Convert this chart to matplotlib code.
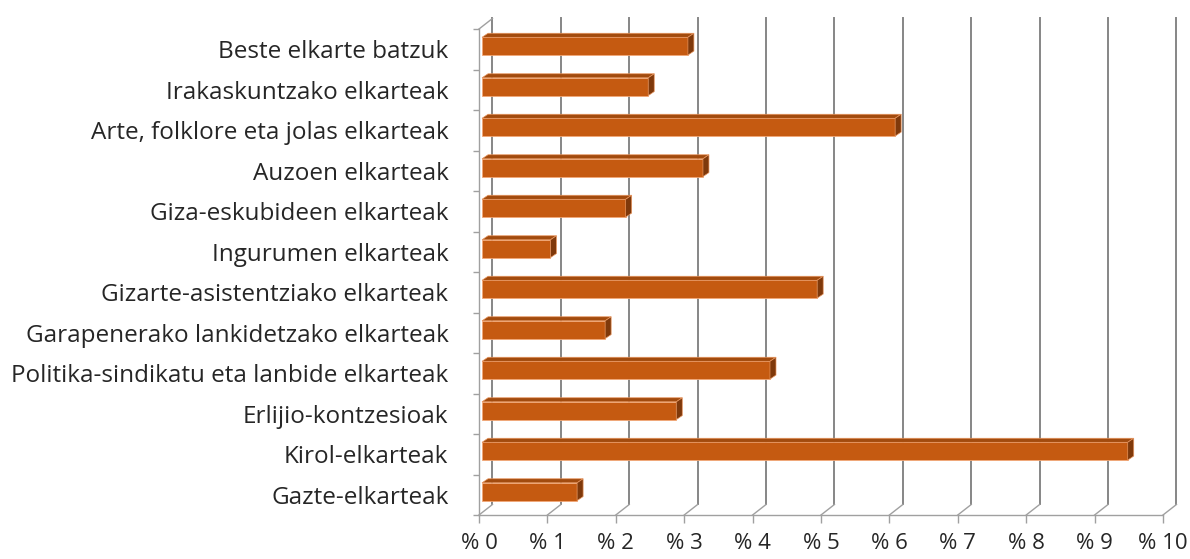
import matplotlib.pyplot as plt
from matplotlib.patches import Polygon

# Datuak (goitik behera irudian)
kategoriak = ["Beste elkarte batzuk", "Irakaskuntzako elkarteak",
              "Arte, folklore eta jolas elkarteak", "Auzoen elkarteak",
              "Giza-eskubideen elkarteak", "Ingurumen elkarteak",
              "Gizarte-asistentziako elkarteak", "Garapenerako lankidetzako elkarteak",
              "Politika-sindikatu eta lanbide elkarteak", "Erlijio-kontzesioak",
              "Kirol-elkarteak", "Gazte-elkarteak"]
balioak = [3.01, 2.43, 6.04, 3.23, 2.1, 1.0, 4.9, 1.8, 4.21, 2.84, 9.44, 1.39]
x_ticks = list(range(0, 11))
x_etiketak = ["% " + str(t) for t in x_ticks]

# behetik gora marraztu
kategoriak = kategoriak[::-1]
balioak = balioak[::-1]
n = len(kategoriak)

plt.rcParams['font.family'] = ['Open Sans', 'DejaVu Sans']

fig = plt.figure(figsize=(11.9, 5.59), dpi=100)
W, H = 1190, 559
ax = fig.add_axes([479 / W, (H - 515) / H, (1163 - 479) / W, (515 - 29) / H])
ax.set_xlim(0, 10)
ax.set_ylim(0, n)

# 3D sakonera (datu unitateetan)
DX, DY = 0.197, 0.26
grid_kol = "#868686"
ax_kol = "#a0a0a0"

# atzeko horma
for t in x_ticks:
    ax.plot([t + DX, t + DX], [DY, n + DY], color=grid_kol, lw=1.4, clip_on=False, zorder=1)
    ax.plot([t, t + DX], [0, DY], color=ax_kol, lw=1.0, clip_on=False, zorder=1)
# ezkerreko horma goiko ertza
ax.plot([0, DX], [n, n + DY], color=ax_kol, lw=1.0, clip_on=False, zorder=1)

# barrak
x0 = 0.044
h = 0.44
shift = 0.075
bdx, bdy = 0.088, 0.1
centers = [k + 0.5 for k in range(n)]
ax.barh([c + shift for c in centers], balioak, left=x0, height=h,
        color="#C55A11", edgecolor="#F2A878", linewidth=0.6, zorder=3)
for c, v in zip(centers, balioak):
    yb = c + shift - h / 2
    yt = c + shift + h / 2
    goia = Polygon([(x0, yt), (x0 + v, yt), (x0 + v + bdx, yt + bdy), (x0 + bdx, yt + bdy)],
                   closed=True, facecolor="#A24B0E", edgecolor="#E8955E", lw=0.5, zorder=3, clip_on=False)
    alboa = Polygon([(x0 + v, yb), (x0 + v, yt), (x0 + v + bdx, yt + bdy), (x0 + v + bdx, yb + bdy)],
                    closed=True, facecolor="#7F390B", edgecolor="#E8955E", lw=0.5, zorder=3, clip_on=False)
    ax.add_patch(goia)
    ax.add_patch(alboa)

# ardatzak
for s in ["top", "right"]:
    ax.spines[s].set_visible(False)
for s in ["left", "bottom"]:
    ax.spines[s].set_color(ax_kol)
    ax.spines[s].set_linewidth(1.0)

ax.set_xticks(x_ticks)
ax.set_xticklabels(x_etiketak, fontsize=16, color="#262626")
ax.tick_params(axis="x", length=6, width=1.0, color=ax_kol, pad=7)

ax.set_yticks(range(n + 1), minor=False)
ax.set_yticklabels([""] * (n + 1))
ax.tick_params(axis="y", which="major", length=4, width=1.0, color=ax_kol)
ax.set_yticks(centers, minor=True)
ax.set_yticklabels(kategoriak, minor=True, fontsize=17.5, color="#262626")
ax.tick_params(axis="y", which="minor", length=0, pad=22)

fig.savefig("out.png", dpi=100)
